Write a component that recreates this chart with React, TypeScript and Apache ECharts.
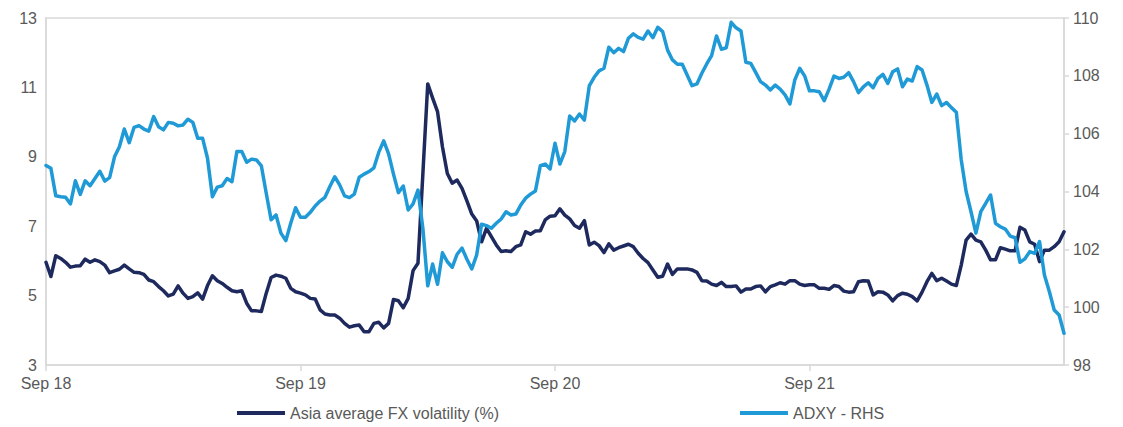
import React, { useEffect, useRef } from "react";
import * as echarts from "echarts";

// Asia average FX volatility (%) – left axis, weekly
const volatility = [
  5.96, 5.55, 6.15, 6.07, 5.96, 5.82, 5.85, 5.86, 6.05, 5.96,
  6.03, 5.98, 5.88, 5.66, 5.71, 5.76, 5.88, 5.77, 5.67, 5.66,
  5.61, 5.45, 5.40, 5.26, 5.14, 4.99, 5.04, 5.28, 5.07, 4.92,
  4.97, 5.08, 4.90, 5.29, 5.57, 5.43, 5.35, 5.24, 5.14, 5.11,
  5.14, 4.78, 4.56, 4.56, 4.54, 5.07, 5.52, 5.59, 5.56, 5.50,
  5.21, 5.11, 5.07, 5.02, 4.92, 4.90, 4.59, 4.47, 4.44, 4.44,
  4.35, 4.20, 4.09, 4.13, 4.15, 3.96, 3.96, 4.20, 4.23, 4.07,
  4.20, 4.89, 4.85, 4.65, 4.92, 5.72, 5.93, 8.50, 11.10, 10.69,
  10.30, 9.29, 8.52, 8.24, 8.33, 8.09, 7.73, 7.35, 7.15, 6.55,
  6.94, 6.70, 6.46, 6.27, 6.29, 6.27, 6.41, 6.46, 6.84, 6.77,
  6.86, 6.87, 7.18, 7.29, 7.30, 7.50, 7.32, 7.21, 7.02, 6.94,
  7.16, 6.46, 6.54, 6.44, 6.24, 6.49, 6.31, 6.38, 6.43, 6.48,
  6.41, 6.22, 6.07, 5.95, 5.74, 5.53, 5.56, 5.91, 5.61, 5.77,
  5.77, 5.77, 5.74, 5.67, 5.43, 5.42, 5.33, 5.29, 5.38, 5.26,
  5.26, 5.28, 5.10, 5.19, 5.19, 5.26, 5.28, 5.11, 5.26, 5.31,
  5.37, 5.33, 5.43, 5.43, 5.33, 5.29, 5.31, 5.31, 5.21, 5.21,
  5.18, 5.29, 5.26, 5.13, 5.10, 5.11, 5.40, 5.43, 5.42, 5.02,
  5.11, 5.10, 5.02, 4.85, 5.00, 5.07, 5.04, 4.97, 4.85, 5.10,
  5.40, 5.64, 5.43, 5.50, 5.42, 5.33, 5.29, 5.88, 6.60, 6.77,
  6.60, 6.55, 6.31, 6.03, 6.03, 6.38, 6.34, 6.29, 6.29, 6.97,
  6.89, 6.55, 6.48, 5.98, 6.31, 6.31, 6.41, 6.55, 6.84,
];

// ADXY – right axis, weekly
const adxy = [
  104.9, 104.8, 103.85, 103.82, 103.8, 103.57, 104.37, 103.9, 104.37, 104.2,
  104.45, 104.7, 104.36, 104.48, 105.2, 105.55, 106.16, 105.69, 106.22, 106.28,
  106.16, 106.09, 106.59, 106.24, 106.13, 106.39, 106.36, 106.27, 106.3, 106.5,
  106.39, 105.84, 105.84, 105.15, 103.82, 104.15, 104.2, 104.45, 104.34, 105.38,
  105.38, 105.01, 105.12, 105.09, 104.89, 103.94, 103.02, 103.19, 102.56, 102.3,
  102.9, 103.44, 103.11, 103.11, 103.28, 103.5, 103.67, 103.8, 104.17, 104.51,
  104.23, 103.85, 103.79, 103.91, 104.49, 104.6, 104.69, 104.82, 105.36, 105.75,
  105.3, 104.6, 103.96, 104.19, 103.36, 103.57, 104.05, 102.73, 100.74, 101.49,
  100.79, 101.88, 101.57, 101.38, 101.83, 102.04, 101.66, 101.32, 101.81, 102.87,
  102.82, 102.73, 102.9, 103.05, 103.3, 103.19, 103.22, 103.53, 103.77, 103.91,
  104.02, 104.89, 104.95, 104.78, 105.67, 104.95, 105.38, 106.61, 106.44, 106.68,
  106.47, 107.65, 107.95, 108.17, 108.26, 108.99, 108.8, 108.95, 108.84, 109.3,
  109.45, 109.33, 109.27, 109.55, 109.32, 109.68, 109.53, 108.89, 108.55, 108.4,
  108.4, 108.03, 107.66, 107.72, 108.09, 108.41, 108.7, 109.38, 108.92, 108.97,
  109.85, 109.66, 109.55, 108.47, 108.43, 108.12, 107.8, 107.68, 107.51, 107.68,
  107.54, 107.34, 107.03, 107.86, 108.26, 108.0, 107.48, 107.48, 107.45, 107.14,
  107.54, 107.99, 107.91, 107.95, 108.11, 107.8, 107.42, 107.62, 107.76, 107.59,
  107.91, 108.05, 107.74, 108.14, 108.24, 107.62, 107.89, 107.82, 108.32, 108.2,
  107.68, 107.08, 107.37, 106.97, 107.08, 106.9, 106.74, 105.1, 104.0, 103.3,
  102.56, 103.3, 103.59, 103.88, 102.9, 102.78, 102.7, 102.46, 102.4, 101.55,
  101.67, 101.92, 101.86, 102.27, 101.11, 100.54, 99.9, 99.73, 99.1,
];

const seriesNames = ["Asia average FX volatility (%)", "ADXY - RHS"];
const xTickLabels = ["Sep 18", "Sep 19", "Sep 20", "Sep 21"];
const xTickIndex = [0, 52, 104, 156];
const leftAxis = { min: 3, max: 13, interval: 2 };
const rightAxis = { min: 98, max: 110, interval: 2 };

// weekly dates starting early September 2018
const weeks = volatility.map((_, i) => {
  const d = new Date(Date.UTC(2018, 8, 7 + 7 * i));
  return d.toISOString().slice(0, 10);
});

const FONT = "'Liberation Sans', Arial, sans-serif";
const TEXT = "#595959";
const AXIS = "#d9d9d9";
const NAVY = "#1e2a5e";
const BLUE = "#1f9ad6";

export default function App() {
  const ref = useRef<HTMLDivElement>(null);

  useEffect(() => {
    document.body.style.margin = "0";
    if (!ref.current) return;
    const chart = echarts.init(ref.current, undefined, { renderer: "svg" });
    const isTick = (i: number) => xTickIndex.includes(i);
    chart.setOption({
      animation: false,
      textStyle: { fontFamily: FONT },
      grid: {
        left: 46,
        right: 59,
        top: 18,
        bottom: 62,
        show: true,
        borderColor: AXIS,
        borderWidth: 1.5,
      },
      legend: {
        data: seriesNames,
        left: 232,
        top: 400,
        icon: "rect",
        itemWidth: 48,
        itemHeight: 4,
        itemGap: 241,
        textStyle: { fontFamily: FONT, fontSize: 16, color: TEXT },
      },
      xAxis: {
        type: "category",
        data: weeks,
        boundaryGap: false,
        axisLine: { show: true, lineStyle: { color: AXIS, width: 1.5 } },
        axisTick: {
          show: true,
          interval: (i: number) => isTick(i),
          length: 6,
          lineStyle: { color: AXIS, width: 1.5 },
        },
        axisLabel: {
          interval: (i: number) => isTick(i),
          formatter: (_v: string, i: number) => {
            const k = xTickIndex.indexOf(i);
            return k >= 0 ? xTickLabels[k] : "";
          },
          color: TEXT,
          fontSize: 16,
          fontFamily: FONT,
          margin: 10,
        },
        splitLine: { show: false },
      },
      yAxis: [
        {
          type: "value",
          position: "left",
          ...leftAxis,
          axisLine: { show: true, lineStyle: { color: AXIS, width: 1.5 } },
          axisTick: { show: false },
          splitLine: { show: false },
          axisLabel: { color: TEXT, fontSize: 16, fontFamily: FONT, margin: 9 },
        },
        {
          type: "value",
          position: "right",
          ...rightAxis,
          axisLine: { show: true, lineStyle: { color: AXIS, width: 1.5 } },
          axisTick: { show: true, length: 5, lineStyle: { color: AXIS, width: 1.5 } },
          splitLine: { show: false },
          axisLabel: { color: TEXT, fontSize: 16, fontFamily: FONT, margin: 9 },
        },
      ],
      series: [
        {
          name: seriesNames[0],
          type: "line",
          yAxisIndex: 0,
          data: volatility,
          symbol: "none",
          showSymbol: false,
          itemStyle: { color: NAVY },
          lineStyle: { color: NAVY, width: 3.5, join: "round", cap: "round" },
        },
        {
          name: seriesNames[1],
          type: "line",
          yAxisIndex: 1,
          data: adxy,
          symbol: "none",
          showSymbol: false,
          itemStyle: { color: BLUE },
          lineStyle: { color: BLUE, width: 3.5, join: "round", cap: "round" },
        },
      ],
    });
    return () => chart.dispose();
  }, []);

  return <div ref={ref} style={{ width: 1123, height: 427 }} />;
}
